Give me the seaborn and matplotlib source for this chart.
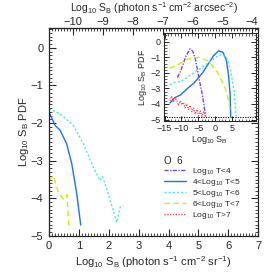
import numpy as np
import pandas as pd
import matplotlib
matplotlib.use('Agg')
import matplotlib.pyplot as plt
import seaborn as sns
from matplotlib.ticker import MultipleLocator, FixedLocator

# ---- main panel: Log10 SB (photon s-1 cm-2 sr-1) vs Log10 PDF
x_t45 = [0.0, 0.2, 0.37, 0.59, 0.76, 0.93, 1.06]
y_t45 = [-1.7, -2.06, -2.19, -2.55, -3.08, -3.89, -4.71]
x_t56 = [0.0, 0.37, 0.81, 1.15, 1.48, 1.71, 1.79, 1.93, 2.27, 2.38, 2.49]
y_t56 = [-1.62, -1.75, -2.06, -2.55, -3.17, -3.53, -3.42, -3.75, -4.64, -4.24, -4.2]
x_t67 = [0.0, 0.14, 0.31, 0.48, 0.6, 0.66, 0.8]
y_t67 = [-3.53, -3.4, -3.84, -4.02, -3.9, -4.7, -4.7]

# ---- inset: full Log10 SB range
in_x_t4 = [-11.2, -10.2, -8.6, -7.45, -6.6, -5.8, -4.8, -3.8, -3.3, -2.8]
in_y_t4 = [-2.3, -1.87, -0.9, -0.46, -0.62, -1.17, -2.34, -3.4, -4.1, -4.8]
in_x_t45 = [-13.4, -12.0, -10.2, -8.2, -6.3, -3.8, -1.9, -0.44, 1.0, 2.3, 3.3, 3.95, 4.45, 4.6]
in_y_t45 = [-3.94, -3.6, -3.41, -3.0, -2.66, -2.02, -1.38, -0.89, -0.59, -0.67, -1.17, -2.13, -3.41, -4.8]
in_x_t56 = [-13.4, -12.0, -10.2, -7.25, -4.3, -1.4, 0.55, 2.0, 3.5, 4.65, 5.6, 6.2]
in_y_t56 = [-2.77, -2.6, -2.55, -2.13, -1.7, -1.27, -0.95, -0.8, -1.06, -1.91, -3.19, -4.8]
in_x_t67 = [-13.5, -11.1, -8.7, -6.3, -4.3, -1.9, 0.55, 3.0, 3.95, 4.45]
in_y_t67 = [-1.7, -1.49, -1.17, -1.01, -1.01, -1.27, -1.91, -2.98, -3.73, -4.47]
in_x_t7 = [-13.4, -12.9, -12.4, -11.9, -11.4, -10.9, -10.4, -9.9, -9.4, -8.9, -8.4,
           -7.9, -7.4, -6.9, -6.4, -5.9, -5.4, -4.9, -4.4, -3.9, -3.4, -2.9]
in_y_t7 = [-3.8, -3.5, -3.9, -3.6, -3.75, -4.1, -3.8, -4.05, -3.9, -4.25, -4.0, -4.35,
           -4.1, -4.5, -4.25, -4.65, -4.35, -4.75, -4.45, -4.8, -4.5, -4.8]
in_x_edge = [-13.7, -13.7]
in_y_edge = [0.55, -1.7]
in_floor = -4.86
in_xticks = [-15, -10, -5, 0, 5]
top_ticks = [-10, -9, -8, -7, -6, -5, -4]

sb_offset = 10.8  # sr^-1 -> arcsec^-2 shift on the top axis

labels = ['Log$_{10}$ T<4', '4<Log$_{10}$ T<5', '5<Log$_{10}$ T<6',
          '6<Log$_{10}$ T<7', 'Log$_{10}$ T>7']
colors = ['#7a45e6', '#1f6ff5', '#3ff0d8', '#c8ef10', '#ff4a4a']
styles = [(0, (3, 1, 1, 1)), '-', (0, (1.5, 1.5)), (0, (4, 2.5)), (0, (1, 1))]

sns.set_style('ticks')
plt.rcParams['font.family'] = ['Liberation Sans', 'DejaVu Sans']
plt.rcParams['mathtext.fontset'] = 'custom'
plt.rcParams['mathtext.rm'] = 'Liberation Sans'
plt.rcParams['mathtext.it'] = 'Liberation Sans'
plt.rcParams['mathtext.default'] = 'regular'
plt.rcParams['axes.unicode_minus'] = True

fig = plt.figure(figsize=(2.74, 2.74), dpi=100)
ax = fig.add_axes([0.179, 0.139, 0.763, 0.759])

sns.lineplot(x=x_t45, y=y_t45, ax=ax, sort=False, color=colors[1], lw=1.0, linestyle=styles[1])
sns.lineplot(x=x_t56, y=y_t56, ax=ax, sort=False, color=colors[2], lw=1.0, linestyle=styles[2])
sns.lineplot(x=x_t67, y=y_t67, ax=ax, sort=False, color=colors[3], lw=1.0, linestyle=styles[3])

ax.set_xlim(0, 7)
ax.set_ylim(-5.0, 0.53)
ax.xaxis.set_major_locator(MultipleLocator(1))
ax.xaxis.set_minor_locator(MultipleLocator(0.1))
ax.yaxis.set_major_locator(MultipleLocator(1))
ax.yaxis.set_minor_locator(MultipleLocator(0.1))
ax.tick_params(which='both', direction='in', top=False, right=True, labelsize=8, pad=4)
ax.tick_params(which='major', length=5, width=0.8)
ax.tick_params(which='minor', length=2.5, width=0.6)
ax.set_xlabel('Log$_{10}$ S$_B$ (photon s$^{-1}$ cm$^{-2}$ sr$^{-1}$)', fontsize=8, labelpad=2)
ax.set_ylabel('Log$_{10}$ S$_B$ PDF', fontsize=8, labelpad=0)
for s in ax.spines.values():
    s.set_linewidth(0.9)

top = ax.secondary_xaxis('top', functions=(lambda v: v - sb_offset, lambda v: v + sb_offset))
top.xaxis.set_major_locator(FixedLocator(top_ticks))
top.xaxis.set_minor_locator(MultipleLocator(0.1))
top.tick_params(which='both', direction='in', labelsize=8, pad=1)
top.tick_params(which='major', length=5, width=0.8)
top.tick_params(which='minor', length=2.5, width=0.6)
top.set_xlabel('Log$_{10}$ S$_B$ (photon s$^{-1}$ cm$^{-2}$ arcsec$^{-2}$)', fontsize=7.5, labelpad=3)

# ---- inset
ins = fig.add_axes([0.598, 0.558, 0.335, 0.321])
sns.lineplot(x=in_x_edge, y=in_y_edge, ax=ins, sort=False, color='#ffa030', lw=1.0)
sns.lineplot(x=in_x_t4, y=in_y_t4, ax=ins, sort=False, color=colors[0], lw=1.0, linestyle=styles[0])
sns.lineplot(x=in_x_t45, y=in_y_t45, ax=ins, sort=False, color=colors[1], lw=1.0, linestyle=styles[1])
sns.lineplot(x=in_x_t56, y=in_y_t56, ax=ins, sort=False, color=colors[2], lw=1.0, linestyle=styles[2])
sns.lineplot(x=in_x_t67, y=in_y_t67, ax=ins, sort=False, color=colors[3], lw=1.0, linestyle=styles[3])
sns.lineplot(x=in_x_t7, y=in_y_t7, ax=ins, sort=False, color=colors[4], lw=0.9, linestyle=styles[4])
ins.axhline(in_floor, color='black', lw=0.8, linestyle=(0, (1, 1.2)))
ins.set_xlim(-15.2, 12)
ins.set_ylim(-5.1, 0.55)
ins.xaxis.set_major_locator(FixedLocator(in_xticks))
ins.xaxis.set_minor_locator(MultipleLocator(1))
ins.yaxis.set_major_locator(MultipleLocator(1))
ins.yaxis.set_minor_locator(MultipleLocator(0.2))
ins.tick_params(which='both', direction='in', top=True, right=True, labelsize=6.5, pad=2)
ins.tick_params(which='major', length=3.5, width=0.7)
ins.tick_params(which='minor', length=1.8, width=0.5)
ins.set_xlabel('Log$_{10}$ S$_B$', fontsize=6.5, labelpad=1)
ins.set_ylabel('Log$_{10}$ S$_B$ PDF', fontsize=6.5, labelpad=1)
for s in ins.spines.values():
    s.set_linewidth(0.8)

# ---- legend
handles = [matplotlib.lines.Line2D([], [], color=c, lw=1.0, linestyle=ls)
           for c, ls in zip(colors, styles)]
leg = fig.legend(handles, labels, loc='upper left', bbox_to_anchor=(0.595, 0.435),
                 frameon=False, fontsize=6, title='O  6', title_fontsize=7,
                 alignment='left', handlelength=2.7, handletextpad=0.7,
                 labelspacing=0.0, borderpad=0.1, borderaxespad=0)

fig.savefig('out.png', dpi=100)
